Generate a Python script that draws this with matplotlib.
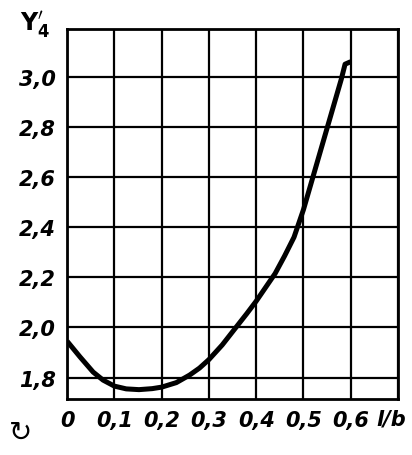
import matplotlib.pyplot as plt

# values
rel_len = [0.0, 0.027, 0.055, 0.076, 0.1, 0.125, 0.152, 0.18, 0.2, 0.231,
           0.259, 0.28, 0.3, 0.328, 0.355, 0.38, 0.4, 0.42, 0.44, 0.46,
           0.48, 0.5, 0.52, 0.54, 0.56, 0.58, 0.588, 0.6]
y4 = [1.945, 1.883, 1.822, 1.79, 1.766, 1.755, 1.752, 1.756, 1.762, 1.78,
      1.81, 1.838, 1.872, 1.93, 1.995, 2.055, 2.105, 2.16, 2.215, 2.285,
      2.36, 2.47, 2.6, 2.73, 2.86, 2.99, 3.05, 3.06]

x_ticks = [0.0, 0.1, 0.2, 0.3, 0.4, 0.5, 0.6]
x_labels = ["0", "0,1", "0,2", "0,3", "0,4", "0,5", "0,6"]
y_ticks = [1.8, 2.0, 2.2, 2.4, 2.6, 2.8, 3.0]
y_labels = ["1,8", "2,0", "2,2", "2,4", "2,6", "2,8", "3,0"]

fig = plt.figure(figsize=(4.12, 4.56), dpi=100)
ax = fig.add_axes([0.163, 0.123, 0.803, 0.811])

ax.plot(rel_len, y4, color="black", lw=3.6, solid_capstyle="butt",
        solid_joinstyle="round")

ax.set_xlim(0, 0.7)
ax.set_ylim(1.715, 3.19)
ax.set_xticks(x_ticks + [0.7])
ax.set_xticklabels(x_labels + [""])
ax.set_yticks(y_ticks)
ax.set_yticklabels(y_labels)
ax.grid(True, color="black", lw=1.6)
ax.tick_params(length=0, pad=8)
for lbl in ax.get_xticklabels() + ax.get_yticklabels():
    lbl.set_fontsize(15)
    lbl.set_fontweight("bold")
    lbl.set_fontstyle("italic")
for sp in ax.spines.values():
    sp.set_linewidth(2)

fig.text(0.085, 0.945, r"$\mathbf{Y}_{\mathbf{4}}^{\mathbf{\prime}}$",
         fontsize=17, ha="center", va="center")
fig.text(0.985, 0.081, "l/b", fontsize=15, fontweight="bold", style="italic",
         ha="right", va="center")
fig.text(0.05, 0.05, "\u21bb", fontsize=20, ha="center", va="center")

fig.savefig("out.png", dpi=100)
